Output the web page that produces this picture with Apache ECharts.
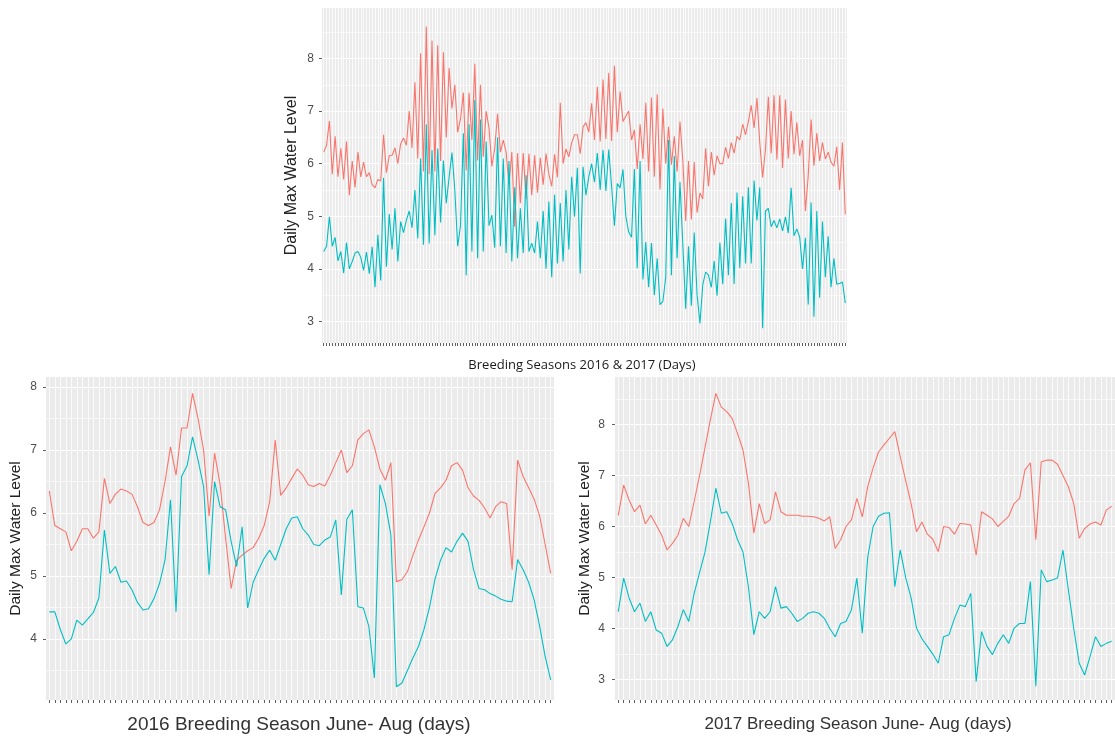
<!DOCTYPE html>
<html>
<head>
<meta charset="utf-8">
<script src="https://cdn.jsdelivr.net/npm/echarts@6/dist/echarts.min.js"></script>
<style>
  html, body { margin: 0; padding: 0; background: #ffffff; }
  #chart { width: 1115px; height: 740px; }
</style>
</head>
<body>
<div id="chart"></div>
<script>
// Daily max water level, June-August, two gauges (red / teal), per season
const red2016 = [
  6.35, 5.8, 5.75, 5.7, 5.4, 5.55, 5.75, 5.75, 5.6, 5.7,
  6.55, 6.15, 6.3, 6.38, 6.35, 6.3, 6.1, 5.85, 5.8, 5.85,
  6.05, 6.5, 7.05, 6.6, 7.35, 7.35, 7.9, 7.5, 7.0, 5.95,
  6.95, 6.45, 5.6, 4.8, 5.25, 5.33, 5.4, 5.45, 5.6, 5.8,
  6.18, 7.16, 6.28, 6.4, 6.55, 6.7, 6.6, 6.45, 6.42, 6.47,
  6.43, 6.6, 6.8, 7.0, 6.64, 6.75, 7.16, 7.26, 7.32, 7.05,
  6.7, 6.52, 6.8, 4.91, 4.94, 5.07, 5.33, 5.57, 5.78, 6.0,
  6.31, 6.4, 6.52, 6.75, 6.8, 6.68, 6.4, 6.27, 6.2, 6.08,
  5.92, 6.1, 6.18, 6.15, 5.1, 6.84, 6.58, 6.4, 6.22, 5.95,
  5.5, 5.04
];
const teal2016 = [
  4.43, 4.43, 4.15, 3.92, 4.0, 4.3, 4.22, 4.32, 4.42, 4.65,
  5.73, 5.04, 5.15, 4.9, 4.92, 4.78, 4.58, 4.46, 4.48, 4.64,
  4.88, 5.25, 6.21, 4.43, 6.58, 6.75, 7.21, 6.84, 6.42, 5.02,
  6.5, 6.1, 6.05, 5.55, 5.15, 5.78, 4.49, 4.9, 5.1, 5.28,
  5.41, 5.25, 5.5, 5.75, 5.92, 5.94, 5.75, 5.65, 5.5, 5.48,
  5.57, 5.62, 5.89, 4.7, 5.9, 6.05, 4.51, 4.49, 4.2, 3.38,
  6.45, 6.15, 5.65, 3.24, 3.3, 3.5, 3.7, 3.88, 4.15, 4.5,
  4.95, 5.25, 5.45, 5.38, 5.55, 5.68, 5.55, 5.1, 4.8, 4.78,
  4.72, 4.68, 4.63, 4.6, 4.59, 5.26, 5.1, 4.9, 4.62, 4.2,
  3.72, 3.35
];
const red2017 = [
  6.22, 6.81, 6.52, 6.29, 6.42, 6.05, 6.22, 6.03, 5.83, 5.54,
  5.67, 5.83, 6.16, 6.0, 6.49, 7.0, 7.55, 8.1, 8.61, 8.34,
  8.25, 8.12, 7.82, 7.5, 6.85, 5.87, 6.45, 6.06, 6.13, 6.68,
  6.29, 6.22, 6.22, 6.22, 6.2, 6.2, 6.19, 6.16, 6.11, 6.19,
  5.57, 5.74, 6.0, 6.13, 6.55, 6.19, 6.78, 7.15, 7.46, 7.6,
  7.73, 7.86, 7.37, 6.9, 6.45, 5.9, 6.09, 5.85, 5.75, 5.51,
  6.0, 5.98, 5.85, 6.06, 6.05, 6.03, 5.44, 6.29, 6.22, 6.15,
  6.0, 6.1, 6.2, 6.45, 6.55, 7.11, 7.25, 5.74, 7.27, 7.3,
  7.3, 7.22, 7.0, 6.78, 6.45, 5.77, 5.96, 6.05, 6.09, 6.03,
  6.32, 6.4
];
const teal2017 = [
  4.33, 4.99, 4.6, 4.33, 4.5, 4.14, 4.33, 3.97, 3.91, 3.65,
  3.78, 4.04, 4.37, 4.14, 4.69, 5.1, 5.5, 6.1, 6.75, 6.26,
  6.29, 6.06, 5.74, 5.5, 4.82, 3.88, 4.33, 4.2, 4.33, 4.82,
  4.4, 4.43, 4.3, 4.14, 4.2, 4.3, 4.33, 4.3, 4.2, 4.0,
  3.84, 4.1, 4.14, 4.37, 4.99, 3.91, 5.4, 6.0, 6.2, 6.26,
  6.27, 4.82, 5.54, 5.0, 4.6, 4.01, 3.8, 3.65, 3.5, 3.32,
  3.84, 3.88, 4.2, 4.46, 4.43, 4.69, 2.96, 3.94, 3.65, 3.49,
  3.71, 3.88, 3.71, 4.01, 4.1, 4.1, 4.92, 2.87, 5.15, 4.92,
  4.95, 4.99, 5.54, 4.76, 4.0, 3.32, 3.09, 3.45, 3.84, 3.65,
  3.71, 3.75
];

// y tick labels (major) and minor grid positions
const yTickValues = [3, 4, 5, 6, 7, 8];
const yMinorValues = [2.5, 3.5, 4.5, 5.5, 6.5, 7.5, 8.5];

const yTitle = 'Daily Max Water Level';
const xTitleBoth = 'Breeding Seasons 2016 & 2017 (Days)';
const xTitle2016 = '2016 Breeding Season June- Aug (days)';
const xTitle2017 = '2017 Breeding Season June- Aug (days)';

const RED = '#F8766D';
const TEAL = '#00BFC4';

// combined panel: each day holds the 2017 reading followed by the 2016 reading
function interleave(a, b) {
  const out = [];
  for (let i = 0; i < a.length; i++) { out.push(a[i], b[i]); }
  return out;
}
const redBoth = interleave(red2017, red2016);
const tealBoth = interleave(teal2017, teal2016);

const panels = [
  { grid: { left: 322, top: 8, width: 525, height: 335 }, yMin: 2.59, yMax: 8.96,
    red: redBoth, teal: tealBoth, nameSize: 16, labelMargin: 8 },
  { grid: { left: 46, top: 377, width: 508, height: 323 }, yMin: 3.03, yMax: 8.16,
    red: red2016, teal: teal2016, nameSize: 15.5, labelMargin: 9 },
  { grid: { left: 615, top: 377, width: 508, height: 323 }, yMin: 2.6, yMax: 8.93,
    red: red2017, teal: teal2017, nameSize: 15.5, labelMargin: 10 }
];

const grids = [], xAxes = [], yAxes = [], series = [];

panels.forEach((p, k) => {
  const n = p.red.length;
  const positions = p.red.map((_, i) => i + 1);
  const inRange = (vals) => vals.filter(v => v >= p.yMin && v <= p.yMax);

  grids.push(Object.assign({ show: true, backgroundColor: '#EBEBEB', borderWidth: 0, containLabel: false }, p.grid));

  xAxes.push({
    type: 'value', gridIndex: k, min: 0.4, max: n + 0.6,
    axisLine: { show: false },
    axisTick: { show: true, length: 3, customValues: positions, lineStyle: { color: '#333333', width: 0.8 } },
    axisLabel: { show: false },
    splitLine: { show: true, lineStyle: { color: '#FFFFFF', width: 0.8 } }
  });

  // labelled axis with major grid lines
  yAxes.push({
    type: 'value', gridIndex: k, position: 'left', min: p.yMin, max: p.yMax,
    axisLine: { show: false },
    axisTick: { show: true, length: 3, customValues: inRange(yTickValues), lineStyle: { color: '#333333', width: 0.8 } },
    axisLabel: { customValues: inRange(yTickValues), color: '#4D4D4D', fontSize: 12,
                 fontFamily: 'Liberation Sans, Arial, sans-serif', margin: p.labelMargin },
    splitLine: { show: true, lineStyle: { color: '#FFFFFF', width: 1.2 } },
    name: yTitle, nameLocation: 'middle', nameRotate: 90, nameGap: 22,
    nameTextStyle: { color: '#222222', fontSize: p.nameSize, fontFamily: 'Liberation Sans, Arial, sans-serif' }
  });

  // unlabelled companion axis carrying the minor grid lines
  yAxes.push({
    type: 'value', gridIndex: k, position: 'left', min: p.yMin, max: p.yMax,
    axisLine: { show: false },
    axisTick: { show: false, customValues: inRange(yMinorValues) },
    axisLabel: { show: false },
    splitLine: { show: true, lineStyle: { color: '#FFFFFF', width: 0.6 } }
  });

  [[p.red, RED], [p.teal, TEAL]].forEach(([vals, color]) => {
    series.push({
      type: 'line', xAxisIndex: k, yAxisIndex: 2 * k,
      data: vals.map((v, i) => [positions[i], v]),
      showSymbol: false, symbol: 'none', silent: true,
      lineStyle: { color: color, width: 1.1 },
      itemStyle: { color: color }
    });
  });
});

const chart = echarts.init(document.getElementById('chart'), null, { renderer: 'canvas' });
chart.setOption({
  animation: false,
  backgroundColor: '#FFFFFF',
  grid: grids,
  xAxis: xAxes,
  yAxis: yAxes,
  series: series,
  graphic: [
    { type: 'text', x: 582, y: 365, silent: true,
      style: { text: xTitleBoth, fill: '#1A1A1A', font: '13px "Open Sans", sans-serif',
               textAlign: 'center', textVerticalAlign: 'middle' } },
    { type: 'text', x: 299, y: 725, silent: true,
      style: { text: xTitle2016, fill: '#333333', font: '19px "Liberation Sans", Arial, sans-serif',
               textAlign: 'center', textVerticalAlign: 'middle' } },
    { type: 'text', x: 858, y: 724, silent: true,
      style: { text: xTitle2017, fill: '#333333', font: '17px "Liberation Sans", Arial, sans-serif',
               textAlign: 'center', textVerticalAlign: 'middle' } }
  ]
});
</script>
</body>
</html>
